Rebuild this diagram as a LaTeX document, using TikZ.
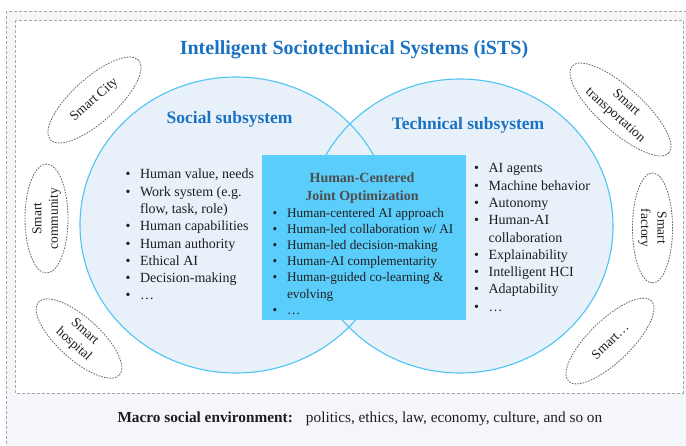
\documentclass[tikz,border=0pt]{standalone}
\usepackage{fontspec}
\setmainfont{Liberation Serif}
\usetikzlibrary{shapes.geometric}
\definecolor{bgout}{HTML}{F4F6FA}
\definecolor{bordergray}{HTML}{A6A6A6}
\definecolor{titleblue}{HTML}{1B72C2}
\definecolor{circfill}{HTML}{E8F1F9}
\definecolor{circline}{HTML}{4EC4F4}
\definecolor{boxblue}{HTML}{5ACDFA}
\definecolor{boxtitle}{HTML}{4D4D4D}
\definecolor{ellline}{HTML}{5E6678}
\definecolor{txt}{HTML}{1E1E1E}
\begin{document}
\begin{tikzpicture}[x=1pt,y=-1pt,
  frame/.style={draw=bordergray, line width=0.8pt, dash pattern=on 3pt off 2pt},
  subsys/.style={ellipse, fill=circfill, inner sep=0pt},
  subline/.style={draw=circline, line width=1.1pt},
  subtitle/.style={text=titleblue, font=\bfseries\fontsize{17.5}{20}\selectfont, inner sep=0pt},
  listtxt/.style={text=txt, inner sep=0pt, anchor=base west},
  appdomain/.style={ellipse, draw=ellline, line width=0.8pt, dash pattern=on 1.6pt off 1.2pt,
    inner sep=0pt, align=center, text=txt, font=\fontsize{13.5}{16.5}\selectfont},
  jointbox/.style={rectangle, fill=boxblue, inner sep=0pt}
]
\useasboundingbox (0,0) rectangle (686,445);
\clip (0,0) rectangle (686,445);
\fill[white] (0,0) rectangle (686,445);
% frames
\draw[frame, fill=bgout] (6,11) rectangle (700,460);
\draw[frame, fill=white] (15,20) rectangle (683,393);

% title
\node[text=titleblue, font=\bfseries\fontsize{20}{24}\selectfont, inner sep=0pt] (title) at (354,50) {Intelligent Sociotechnical Systems (iSTS)};

% subsystems
\node[subsys, minimum width=312pt, minimum height=296pt] (soc) at (236,225) {};
\node[subsys, minimum width=306pt, minimum height=294pt] (tech) at (460,226) {};
\draw[subline] (soc.center) ellipse (156 and 148);
\draw[subline] (tech.center) ellipse (153 and 147);

\node[subtitle] (soctitle) at (229.6,119.3) {Social subsystem};
\node[subtitle] (techtitle) at (468,125.7) {Technical subsystem};

% joint box
\node[jointbox, minimum width=204pt, minimum height=165pt] (joint) at (364,237.5) {};
\node[text=boxtitle, font=\bfseries\fontsize{14}{17.7}\selectfont, inner sep=0pt, anchor=base] (jointtitle) at (362,182.8)
  {\begin{tabular}[t]{@{}c@{}}Human-Centered\\Joint Optimization\end{tabular}};

% lists
\node[listtxt, font=\fontsize{14}{17.3}\selectfont] (soclist) at (125.5,178.8)
{\begin{tabular}[t]{@{}l@{\hspace{9.5pt}}l@{}}
\textbullet & Human value, needs\\
\textbullet & Work system (e.g.\\
 & flow, task, role)\\
\textbullet & Human capabilities\\
\textbullet & Human authority\\
\textbullet & Ethical AI\\
\textbullet & Decision-making\\
\textbullet & …
\end{tabular}};

\node[listtxt, font=\fontsize{13.2}{16.1}\selectfont] (jointlist) at (272.3,217.5)
{\begin{tabular}[t]{@{}l@{\hspace{10pt}}l@{}}
\textbullet & Human-centered AI approach\\
\textbullet & Human-led collaboration w/ AI\\
\textbullet & Human-led decision-making\\
\textbullet & Human-AI complementarity\\
\textbullet & Human-guided co-learning \&\\
 & evolving\\
\textbullet & …
\end{tabular}};

\node[listtxt, font=\fontsize{14}{17.3}\selectfont] (techlist) at (474,172.8)
{\begin{tabular}[t]{@{}l@{\hspace{9.5pt}}l@{}}
\textbullet & AI agents\\
\textbullet & Machine behavior\\
\textbullet & Autonomy\\
\textbullet & Human-AI\\
 & collaboration\\
\textbullet & Explainability\\
\textbullet & Intelligent HCI\\
\textbullet & Adaptability\\
\textbullet & …
\end{tabular}};

% application domains
\node[appdomain, minimum width=118.8pt, minimum height=44pt, rotate=42] (city) at (94.5,100) {Smart City};
\node[appdomain, minimum width=109pt, minimum height=43pt, rotate=90] (community) at (46.5,218.5) {Smart\\community};
\node[appdomain, minimum width=109pt, minimum height=42pt, rotate=-42] (hospital) at (79,338.5) {Smart\\hospital};
\node[appdomain, minimum width=130pt, minimum height=44pt, rotate=-42] (transport) at (620.5,109.5) {Smart\\transportation};
\node[appdomain, minimum width=110pt, minimum height=39pt, rotate=-90] (factory) at (652.5,228) {Smart\\factory};
\node[appdomain, minimum width=115.6pt, minimum height=42pt, rotate=44] (other) at (610,341) {Smart…};

% macro environment
\node[listtxt, font=\fontsize{15.3}{18}\selectfont] (macro) at (117.3,422)
{\textbf{Macro social environment:}\hspace{8pt} politics, ethics, law, economy, culture, and so on};
\end{tikzpicture}
\end{document}
